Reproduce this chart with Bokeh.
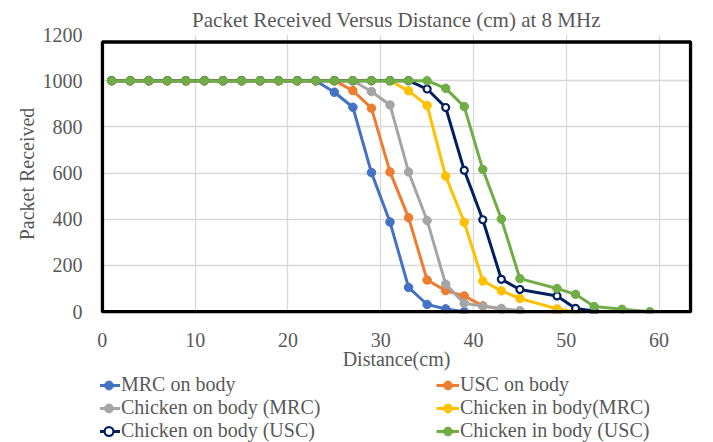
from bokeh.plotting import figure
from bokeh.layouts import column
from bokeh.models import Range1d, FixedTicker, BoxAnnotation, Legend, LegendItem
from bokeh.embed import file_html
from bokeh.resources import INLINE

# ---- data ----
mrc_on_x = [1, 3, 5, 7, 9, 11, 13, 15, 17, 19, 21, 23, 25, 27, 29, 31, 33, 35, 37, 39]
mrc_on_y = [1000, 1000, 1000, 1000, 1000, 1000, 1000, 1000, 1000, 1000, 1000, 1000,
            950, 885, 602, 388, 105, 31, 12, 0]

usc_on_x = [1, 3, 5, 7, 9, 11, 13, 15, 17, 19, 21, 23, 25, 27, 29, 31, 33, 35, 37, 39, 41, 43, 45, 49]
usc_on_y = [1000, 1000, 1000, 1000, 1000, 1000, 1000, 1000, 1000, 1000, 1000, 1000, 1000,
            957, 881, 605, 407, 137, 91, 68, 25, 10, 2, 0]

chk_on_mrc_x = [1, 3, 5, 7, 9, 11, 13, 15, 17, 19, 21, 23, 25, 27, 29, 31, 33, 35, 37, 39, 41, 43, 45]
chk_on_mrc_y = [1000, 1000, 1000, 1000, 1000, 1000, 1000, 1000, 1000, 1000, 1000, 1000, 1000, 1000,
                953, 895, 605, 395, 119, 36, 24, 14, 4]

chk_in_mrc_x = [1, 3, 5, 7, 9, 11, 13, 15, 17, 19, 21, 23, 25, 27, 29, 31, 33, 35, 37, 39, 41, 43, 45, 49, 51]
chk_in_mrc_y = [1000, 1000, 1000, 1000, 1000, 1000, 1000, 1000, 1000, 1000, 1000, 1000, 1000, 1000, 1000, 1000,
                956, 893, 587, 387, 133, 90, 57, 12, 0]

chk_on_usc_x = [1, 3, 5, 7, 9, 11, 13, 15, 17, 19, 21, 23, 25, 27, 29, 31, 33, 35, 37, 39, 41, 43, 45, 49, 51, 53]
chk_on_usc_y = [1000, 1000, 1000, 1000, 1000, 1000, 1000, 1000, 1000, 1000, 1000, 1000, 1000, 1000, 1000, 1000, 1000,
                964, 884, 612, 398, 140, 96, 68, 14, 3]

chk_in_usc_x = [1, 3, 5, 7, 9, 11, 13, 15, 17, 19, 21, 23, 25, 27, 29, 31, 33, 35, 37, 39, 41, 43, 45, 49, 51, 53, 56, 59]
chk_in_usc_y = [1000, 1000, 1000, 1000, 1000, 1000, 1000, 1000, 1000, 1000, 1000, 1000, 1000, 1000, 1000, 1000, 1000, 1000,
                967, 888, 616, 401, 143, 100, 75, 22, 10, 0]

series_names = ["MRC on body", "USC on body", "Chicken on body (MRC)",
                "Chicken in body(MRC)", "Chicken on body (USC)", "Chicken in body (USC)"]

x_ticks = [0, 10, 20, 30, 40, 50, 60]
y_ticks = [0, 200, 400, 600, 800, 1000, 1200]

FONT = "Liberation Serif"
TXT = "#595959"
W = 713

p = figure(width=W, height=372, output_backend="svg", toolbar_location=None,
           x_range=Range1d(-0.2, 63.6), y_range=Range1d(-8, 1200),
           min_border_left=100, min_border_right=21, min_border_top=34, min_border_bottom=57)
p.outline_line_color = None
p.background_fill_color = "white"

p.title.text = "Packet Received Versus Distance (cm) at 8 MHz"
p.title.text_font = FONT
p.title.text_font_size = "21px"
p.title.text_font_style = "normal"
p.title.text_color = TXT
p.title.align = "center"
p.title.standoff = 6

# axes
p.xaxis.ticker = FixedTicker(ticks=x_ticks)
p.yaxis.ticker = FixedTicker(ticks=y_ticks)
for ax in (p.xaxis[0], p.yaxis[0]):
    ax.axis_line_color = None
    ax.major_tick_line_color = None
    ax.minor_tick_line_color = None
    ax.major_label_text_font = FONT
    ax.major_label_text_font_size = "20px"
    ax.major_label_text_color = TXT
    ax.axis_label_text_font = FONT
    ax.axis_label_text_font_size = "20px"
    ax.axis_label_text_font_style = "normal"
    ax.axis_label_text_color = TXT
p.xaxis.axis_label = "Distance(cm)"
p.yaxis.axis_label = "Packet Received"
p.xaxis.major_label_standoff = 13
p.xaxis.axis_label_standoff = -2
p.yaxis.major_label_standoff = 12
p.yaxis.axis_label_standoff = 2

p.xgrid.ticker = FixedTicker(ticks=[10, 20, 30, 40, 50, 60])
p.ygrid.ticker = FixedTicker(ticks=[200, 400, 600, 800, 1000])
p.xgrid.grid_line_color = "#D9D9D9"
p.ygrid.grid_line_color = "#D9D9D9"
p.xgrid.grid_line_width = 1.3
p.ygrid.grid_line_width = 1.3

colors = ["#4472C4", "#ED7D31", "#A5A5A5", "#FFC000", "#002060", "#70AD47"]
xs = [mrc_on_x, usc_on_x, chk_on_mrc_x, chk_in_mrc_x, chk_on_usc_x, chk_in_usc_x]
ys = [mrc_on_y, usc_on_y, chk_on_mrc_y, chk_in_mrc_y, chk_on_usc_y, chk_in_usc_y]


def draw(fig, name, c, x, y):
    r1 = fig.line(x, y, line_color=c, line_width=3)
    if c == "#002060":
        r2 = fig.scatter(x, y, marker="circle", size=7, fill_color="white",
                         line_color=c, line_width=2.2)
    else:
        r2 = fig.scatter(x, y, marker="circle", size=8.5, fill_color=c, line_color=c)
    return LegendItem(label=name, renderers=[r1, r2])


for name, c, x, y in zip(series_names, colors, xs, ys):
    draw(p, name, c, x, y)

# frame
frame = BoxAnnotation(left=0, right=63.4, bottom=0, top=1168, fill_alpha=0,
                      line_color="black", line_alpha=1, line_width=3.5)
p.add_layout(frame)

# legend strip: own small figure (series drawn outside its visible range,
# only their legend entries show)
lg = figure(width=W, height=70, output_backend="svg", toolbar_location=None,
            x_axis_type=None, y_axis_type=None, x_range=Range1d(0, 1), y_range=Range1d(0, 1),
            min_border=0)
lg.outline_line_color = None
lg.grid.visible = False
items = [draw(lg, name, c, x, y) for name, c, x, y in zip(series_names, colors, xs, ys)]

legend_kw = dict(label_text_font=FONT, label_text_font_size="20px", label_text_color=TXT,
                 glyph_width=23, glyph_height=22, label_height=22,
                 label_standoff=1, spacing=0, padding=0, margin=0,
                 border_line_color=None, background_fill_alpha=0)
leg1 = Legend(items=items[0::2], location=(-3, 0), **legend_kw)
leg2 = Legend(items=items[1::2], location=(336, 0), **legend_kw)
lg.add_layout(leg1)
lg.add_layout(leg2)

open("out.html", "w").write(file_html(column(p, lg, spacing=0), INLINE))
